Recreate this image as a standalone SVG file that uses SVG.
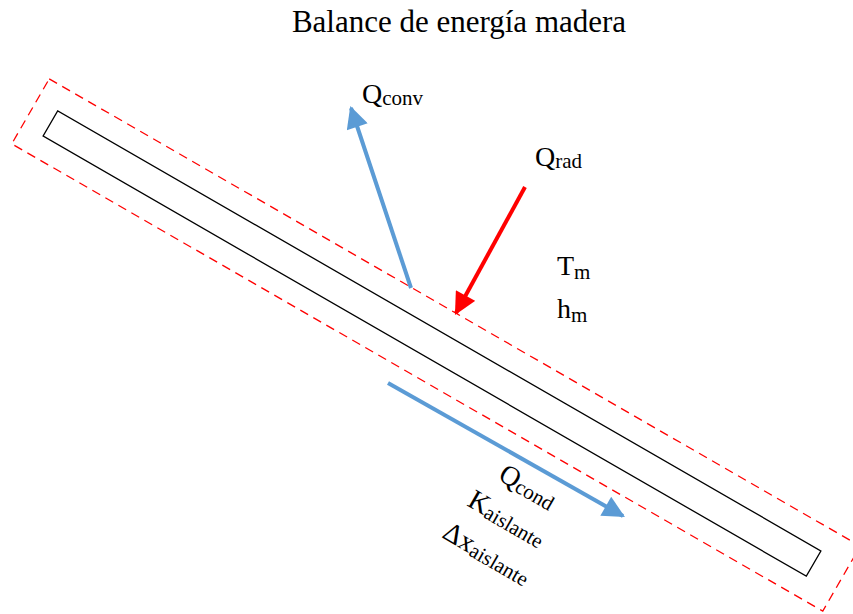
<svg xmlns="http://www.w3.org/2000/svg" width="853" height="614" viewBox="0 0 853 614">
<style>
text{font-family:"Liberation Serif","Times New Roman",serif;fill:#000}
.title{font-size:31px}
.big{font-size:28px}
.sub{font-size:21px}
.blue{stroke:#5B9BD5;stroke-width:4;fill:none}
.red{stroke:#FF0000;stroke-width:4;fill:none}
</style>
<defs>
<marker id="ab" viewBox="0 0 10 10" refX="9" refY="5" markerWidth="6" markerHeight="5.5" markerUnits="strokeWidth" orient="auto"><path d="M0,0 L10,5 L0,10 z" fill="#5B9BD5"/></marker>
<marker id="ar" viewBox="0 0 10 10" refX="9" refY="5" markerWidth="6" markerHeight="5.5" markerUnits="strokeWidth" orient="auto"><path d="M0,0 L10,5 L0,10 z" fill="#FF0000"/></marker>
</defs>
<rect width="853" height="614" fill="#fff"/>
<text class="title" x="459" y="32" text-anchor="middle">Balance de energía madera</text>
<g id="boundary">
<rect x="-468" y="-37.5" width="936" height="75" transform="translate(436,345) rotate(29.95)" fill="none" stroke="#FF0000" stroke-width="1.3" stroke-dasharray="9,6"/>
</g>
<g id="wood">
<rect x="-440.5" y="-14.6" width="881" height="29.2" transform="translate(432,343.5) rotate(29.97)" fill="none" stroke="#000" stroke-width="1.3"/>
</g>
<g id="connectors">
<line class="blue" x1="411" y1="288" x2="351" y2="108" marker-end="url(#ab)"/>
<line class="red" x1="525" y1="187" x2="456" y2="313" marker-end="url(#ar)"/>
<line class="blue" x1="388" y1="383" x2="623" y2="516" marker-end="url(#ab)"/>
</g>
<g id="labels">
<text class="big" x="362" y="103">Q<tspan class="sub" dy="2">conv</tspan></text>
<text class="big" x="535" y="166">Q<tspan class="sub" dy="2">rad</tspan></text>
<text class="big" x="557" y="275">T<tspan class="sub" dy="4">m</tspan></text>
<text class="big" x="557" y="318">h<tspan class="sub" dy="4">m</tspan></text>
<text class="big" transform="translate(497,479) rotate(30)">Q<tspan class="sub" dy="2">cond</tspan></text>
<text class="big" transform="translate(466,505) rotate(30)">K<tspan class="sub" dy="2">aislante</tspan></text>
<text class="big" transform="translate(441,537) rotate(30)">Δx<tspan class="sub" dy="2">aislante</tspan></text>
</g>
</svg>
